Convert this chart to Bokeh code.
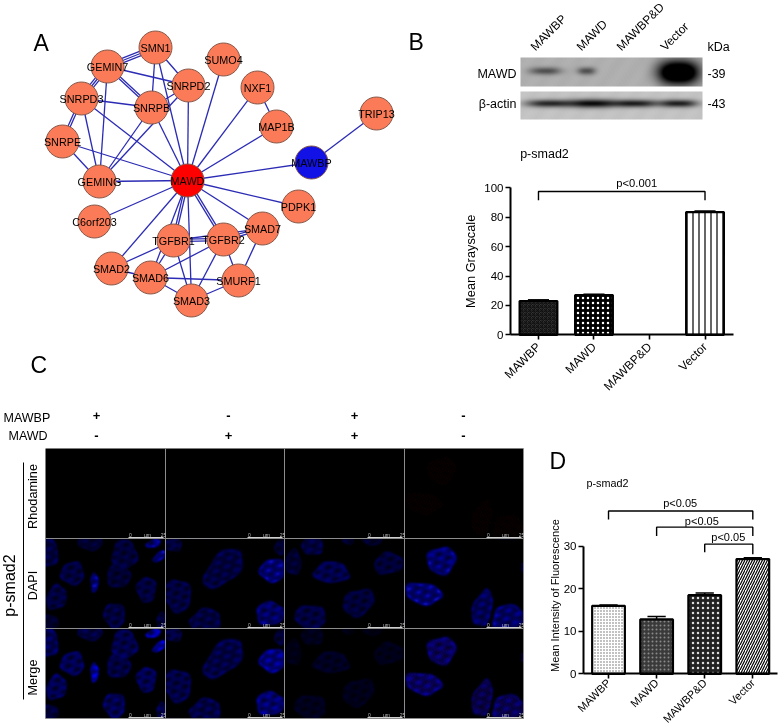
import math
from collections import Counter
import numpy as np
from bokeh.plotting import figure
from bokeh.layouts import column, row
from bokeh.models import Range1d, FixedTicker
from bokeh.core.properties import value
from bokeh.embed import file_html
from bokeh.resources import INLINE

FONT = "Liberation Sans"

# ---- Panel A: interaction network
node_names = ["SMN1","GEMIN7","SUMO4","SNRPD2","NXF1","SNRPD3","SNRPB","MAP1B","TRIP13","SNRPE","MAWBP",
              "GEMING","MAWD","PDPK1","C6orf203","SMAD7","TGFBR1","TGFBR2","SMAD2","SMAD6","SMURF1","SMAD3"]
node_x = [155,107,223,188,257,81,151,276,376,62,311,99,187,298,94,262,173,223,111,150,238,191]
node_y = [47,66,59,85,87,98,107,126,113,141,162,181,180,206,221,228,240,239,268,277,280,300]
edges = [("MAWD",n) for n in ["SMN1","SNRPD2","SUMO4","NXF1","MAP1B","MAWBP","PDPK1","SMAD7","TGFBR2","TGFBR2","TGFBR1",
                              "TGFBR1","SMAD3","SMAD6","SMAD2","C6orf203","GEMING","SNRPE","SNRPD3","SNRPB"]] + [
    ("MAWBP","TRIP13"),("NXF1","MAP1B"),("GEMIN7","SMN1"),("GEMIN7","SMN1"),("GEMIN7","SMN1"),("GEMIN7","SNRPD2"),
    ("GEMIN7","SNRPD3"),("GEMIN7","SNRPD3"),("GEMIN7","SNRPD3"),("GEMIN7","SNRPB"),("GEMIN7","SNRPB"),("GEMIN7","GEMING"),
    ("SMN1","SNRPD2"),("SMN1","SNRPB"),("SNRPD2","SNRPB"),("SNRPD3","SNRPB"),("SNRPD3","SNRPE"),("SNRPD3","SNRPE"),
    ("SNRPD3","GEMING"),("SNRPE","GEMING"),("SNRPB","GEMING"),("SNRPD2","GEMING"),
    ("TGFBR1","TGFBR2"),("TGFBR1","TGFBR2"),("TGFBR1","SMAD7"),("TGFBR2","SMAD7"),("TGFBR2","SMAD7"),("TGFBR1","SMAD2"),
    ("TGFBR1","SMAD6"),("TGFBR1","SMAD3"),("TGFBR2","SMAD6"),("TGFBR2","SMAD3"),("TGFBR2","SMURF1"),("SMAD7","SMURF1"),
    ("SMAD2","SMAD6"),("SMAD6","SMURF1"),("SMAD6","SMAD3"),("SMAD3","SMURF1")]

# ---- Panel B: blot and bars
lane_labels = ["MAWBP","MAWD","MAWBP&D","Vector"]
mawd_bands = [(545,70.5,14,3.2,0.55),(586,70.5,8,3.2,0.55),(678,72,18,10,1.6)]
actin_bands = [(548,103,20,3.2,0.8),(592,103,21,3.6,0.95),(635,103,19,3.2,0.85),(678,103,17,3.2,0.85)]
b_categories = ["MAWBP","MAWD","MAWBP&D","Vector"]
b_values = [23.0,27.0,0.0,83.5]
b_tops = [23.8,27.6,0.0,84.3]

# ---- Panel D: bars
d_categories = ["MAWBP","MAWD","MAWBP&D","Vector"]
d_values = [16.0,12.8,18.5,27.0]
d_tops = [16.2,13.5,19.0,27.3]

# ---- Panel C: nuclei (x, y, a, b, angle, brightness), per column
nuclei_cols = [
    [(3,14,10,15,0,.5),(45,4,13,8,0,.4),(79,16,13,15,0,.45),(27,35,12,12,0,.5),(108,5,8,4,-20,1),(114,18,8,4,-40,1),
     (49,44,4,10,0,.95),(73,37,12,13,0,.4),(11,59,10,13,20,.5),(101,51,10,13,0,.5),(69,77,11,13,-10,.5),(5,84,8,8,0,.35),(117,82,6,8,0,.5)],
    [(8,6,9,7,0,.5),(58,30,25,14,-45,.5),(12,57,14,17,-15,.5),(40,82,16,12,-10,.5),(107,32,13,12,-20,.9),(115,9,6,8,0,.4),(105,75,15,12,0,.8)],
    [(28,7,11,10,0,.5),(9,24,8,13,0,.4),(47,34,18,11,0,.6),(104,25,15,11,-10,.45),(74,64,17,13,-30,.45),(26,79,16,13,10,.5),(64,2,6,4,0,.4),(88,2,10,5,0,.35)],
    [(37,22,15,14,-20,.85),(19,55,19,11,10,.9),(78,70,10,19,15,.7),(104,79,17,13,-10,.8),(119,29,2,5,0,.7)],
]
merge_gain = [1.3,1.1,0.45,0.85]
col_edges = [45,165,284,404,523]
row_edges = [448,538,628,718]
row_names = ["Rhodamine","DAPI","Merge"]
mawbp_signs = ["+","-","+","-"]
mawd_signs = ["-","+","+","-"]


def bare(w, h, x0, x1, y0, y1):
    p = figure(width=w, height=h, x_range=Range1d(x0, x1), y_range=Range1d(y1, y0), toolbar_location=None,
               output_backend="svg", min_border=0, outline_line_color=None, frame_align=False)
    p.axis.visible = False
    p.grid.visible = False
    return p


def label(p, x, y, s, size, angle=0, align="left", style="normal", base="middle"):
    p.text([x], [y], text=[s], angle=angle, text_font=value(FONT), text_font_size=f"{size}px", text_align=align,
           text_baseline=base, text_color="black", text_font_style=style)


# Panel A
pa = bare(455, 395, 0, 455, 0, 395)
pos = dict(zip(node_names, zip(node_x, node_y)))
cnt = Counter(edges)
x0s, y0s, x1s, y1s = [], [], [], []
for (a, b), n in cnt.items():
    ax, ay = pos[a]; bx, by = pos[b]
    L = math.hypot(bx-ax, by-ay)
    ux, uy = -(by-ay)/L, (bx-ax)/L
    for k in range(n):
        o = (k-(n-1)/2)*2.2
        x0s.append(ax+ux*o); y0s.append(ay+uy*o); x1s.append(bx+ux*o); y1s.append(by+uy*o)
pa.segment(x0s, y0s, x1s, y1s, line_color="#2b2bb5", line_width=1.3)
colors = ["#ff0000" if n == "MAWD" else "#1212e6" if n == "MAWBP" else "#fb7b58" for n in node_names]
pa.scatter(node_x, node_y, size=33, fill_color=colors, line_color="#85584a", line_width=1)
pa.text(node_x, node_y, text=node_names, text_font=value(FONT), text_font_size="10.8px", text_align="center",
        text_baseline="middle", text_color="black")
label(pa, 33, 42, "A", 23)
label(pa, 408, 41, "B", 23)
label(pa, 30, 364, "C", 23)


# Blot
def gel(x0, x1, y0, y1, bands, bg):
    X, Y = np.meshgrid(np.arange(x0, x1)+.5, np.arange(y0, y1)+.5)
    tex = 0.5*np.sin(X*1.3+Y*.7)*np.sin(Y*1.7-X*.4)+0.5*np.sin(X*.31+Y*.23)
    g = bg+4*tex
    dark = np.zeros_like(X, dtype=float)
    for cx, cy, sx, sy, amp in bands:
        dark += amp*np.exp(-(np.abs((X-cx)/sx)**2.6+np.abs((Y-cy)/sy)**2)/1.4)
    g = g*(1-np.clip(dark, 0, 1))
    g = np.clip(g, 0, 255).astype(np.uint32)
    return (255 << 24) | (g << 16) | (g << 8) | g


pbl = bare(323, 140, 455, 778, 0, 140)
pbl.image_rgba(image=[gel(520, 702, 57, 86, mawd_bands, 176)], x=520, y=57, dw=182, dh=29)
pbl.image_rgba(image=[gel(520, 702, 91, 119, actin_bands, 196)], x=520, y=91, dw=182, dh=28)
lane_x = [537, 583, 623, 667]
for lx, s in zip(lane_x, lane_labels):
    label(pbl, lx, 53, s, 12, angle=math.pi/4, base="bottom")
label(pbl, 516, 73, "MAWD", 12.5, align="right")
label(pbl, 516, 103, "β-actin", 12.5, align="right")
label(pbl, 707, 46, "kDa", 12.5)
label(pbl, 707, 73, "-39", 12.5)
label(pbl, 707, 103, "-43", 12.5)


def chart(w, h, xr, yr, xb, yb, ticks, cats, labelsize, xlabelsize, x_standoff):
    p = figure(width=w, height=h, x_range=Range1d(*xr), y_range=Range1d(*yr), toolbar_location=None, output_backend="svg",
               outline_line_color=None, min_border=0, frame_align=False)
    p.grid.visible = False
    p.xaxis.bounds = xb
    p.yaxis.bounds = yb
    p.xaxis.fixed_location = 0
    p.yaxis.fixed_location = xb[0]
    p.xaxis.ticker = FixedTicker(ticks=[0, 1, 2, 3])
    p.yaxis.ticker = FixedTicker(ticks=ticks)
    p.xaxis.major_label_overrides = {i: s for i, s in enumerate(cats)}
    p.xaxis.major_label_orientation = math.pi/4
    for ax in (p.xaxis[0], p.yaxis[0]):
        ax.axis_line_width = 2
        ax.major_tick_line_width = 1.6
        ax.major_tick_in = 0
        ax.major_tick_out = 5
        ax.minor_tick_line_color = None
        ax.major_label_text_font = FONT
        ax.major_label_text_color = "black"
        ax.major_label_text_font_size = f"{labelsize}px"
        ax.major_label_standoff = 2
    p.xaxis.major_label_text_font_size = f"{xlabelsize}px"
    p.xaxis.major_label_standoff = x_standoff
    return p


def bars(p, vals, tops, styles, cap=0.19):
    for i, (v, st) in enumerate(zip(vals, styles)):
        if v <= 0:
            continue
        p.vbar([i], width=0.68, top=[v], bottom=0, line_color="black", line_width=2.2, **st)
        p.segment([i], [v], [i], [tops[i]], line_color="black", line_width=1.5)
        p.segment([i-cap], [tops[i]], [i+cap], [tops[i]], line_color="black", line_width=1.5)


def bracket(p, a, b, y, ya, yb, txt, tx, ty, size):
    p.line([a, a, b, b], [ya, y, y, yb], line_color="black", line_width=1.4)
    p.text([tx], [ty], text=[txt], text_font=value(FONT), text_font_size=f"{size}px", text_align="center",
           text_baseline="middle", text_color="black")


# Panel B chart
pb = chart(323, 255, (-1.495, 4.324), (-41.3, 132.2), (-0.505, 3.51), (0, 100), [0, 20, 40, 60, 80, 100], b_categories,
           11.5, 12, 5)
label(pb, -1.225, 50, "Mean Grayscale", 12.8, angle=math.pi/2, align="center")
b_styles = [
    dict(fill_color="#333333", hatch_pattern="criss_cross", hatch_color="#111111", hatch_scale=4, hatch_weight=1),
    dict(fill_color="black", hatch_pattern="dot", hatch_color="white", hatch_scale=5, hatch_weight=3.6),
    dict(),
    dict(fill_color="white", hatch_pattern="vertical_line", hatch_color="black", hatch_scale=6, hatch_weight=1.2),
]
bars(pb, b_values, b_tops, b_styles)
bracket(pb, 0, 3, 97.5, 91.5, 91.5, "p<0.001", 1.77, 103.2, 11.2)
pb.text([-0.33], [122.7], text=["p-smad2"], text_font=value(FONT), text_font_size="12.5px", text_baseline="middle",
        text_color="black")


# Panel C
def box_blur(a):
    out = a.copy()
    for ax in (0, 1):
        out = (np.roll(out, 1, ax)+2*out+np.roll(out, -1, ax))/4
    return out


H, W = row_edges[-1]-row_edges[0], col_edges[-1]-col_edges[0]
rgb = np.zeros((H, W, 3))
for c, nuc in enumerate(nuclei_cols):
    x0 = col_edges[c]; pw = col_edges[c+1]-x0
    X, Y = np.meshgrid(np.arange(pw)+.5, np.arange(90)+.5)
    val = np.zeros_like(X); mask_all = np.zeros_like(X)
    for cx, cy, a, b, ang, br in nuc:
        t = math.radians(ang)
        dx = (X-cx)*math.cos(t)+(Y-cy)*math.sin(t)
        dy = -(X-cx)*math.sin(t)+(Y-cy)*math.cos(t)
        th = np.arctan2(dy/b, dx/a)
        r = np.sqrt((dx/a)**2+(dy/b)**2)*(1+.07*np.sin(3*th+cx)+.05*np.sin(5*th+cy))
        m = np.clip((1-r)/.1, 0, 1)
        rim = np.exp(-((r-.92)/.1)**2)
        tex = (np.sin(X*.62+Y*.21+cx)+np.sin(Y*.71-X*.27+cy)+np.sin(X*.37+Y*.83+cx*cy))/3
        v = m*(.62+.42*tex)*br+rim*.3*br
        val = np.maximum(val, v); mask_all = np.maximum(mask_all, m)
    xa = x0-col_edges[0]
    val = box_blur(val)
    rgb[90:180, xa:xa+pw, 2] = np.clip(val*190, 0, 255)
    rgb[180:270, xa:xa+pw, 2] = np.clip(val*190*merge_gain[c], 0, 255)
    rgb[90:180, xa:xa+pw, 0] = rgb[90:180, xa:xa+pw, 1] = np.clip(val-.75, 0, 1)*90
    if c == 3:
        speck = np.clip(np.sin(X*1.7+Y*.9)*np.sin(Y*2.1-X*.6)-.2, 0, 1)
        rgb[0:90, xa:xa+pw, 0] = mask_all*speck*50
        rgb[180:270, xa:xa+pw, 0] = mask_all*speck*60
rgb = np.clip(rgb, 0, 255).astype(np.uint32)
img = (255 << 24) | (rgb[..., 2] << 16) | (rgb[..., 1] << 8) | rgb[..., 0]

pc = bare(530, 330, 0, 530, 395, 725)
pc.image_rgba(image=[img], x=col_edges[0], y=row_edges[0], dw=W, dh=H)
for xe in col_edges[1:]:
    pc.line([xe, xe], [row_edges[0], row_edges[-1]], line_color="#8c8c8c", line_width=1)
for ye in row_edges[1:]:
    pc.line([col_edges[0], col_edges[-1]], [ye, ye], line_color="#8c8c8c", line_width=1)
for c in range(4):
    for ye in row_edges[1:]:
        xr = col_edges[c+1]
        pc.line([xr-37, xr-2], [ye-1, ye-1], line_color="#cfcfcf", line_width=1)
        pc.text([xr-35, xr-18, xr-2], [ye-4, ye-4, ye-4], text=["0", "µm", "25"], text_font=value(FONT),
                text_font_size="5px", text_color="#bdbdbd", text_align="center", text_baseline="middle")
label(pc, 3, 417, "MAWBP", 12.5)
label(pc, 8, 435, "MAWD", 12.5)
for xs, s1, s2 in zip([96, 228, 354, 463], mawbp_signs, mawd_signs):
    pc.text([xs, xs], [415, 435], text=[s1, s2], text_font=value(FONT), text_font_size="13px", text_font_style="bold",
            text_align="center", text_baseline="middle", text_color="black")
for yc, s in zip([496, 585, 677], row_names):
    label(pc, 32, yc, s, 12.7, angle=math.pi/2, align="center")
label(pc, 9, 585, "p-smad2", 16, angle=math.pi/2, align="center")
pc.line([23, 23], [462, 699], line_color="black", line_width=1)

# Panel D heading
pdt = bare(248, 100, 530, 778, 395, 495)
label(pdt, 549, 460, "D", 23)
label(pdt, 586, 482, "p-smad2", 10.8)

# Panel D chart
pd_ = chart(248, 230, (-1.622, 3.534), (-12.16, 41.95), (-0.52, 3.51), (0, 30), [0, 10, 20, 30], d_categories,
            11.5, 11, 2)
label(pd_, -1.123, 18.4, "Mean Intensity of Fluorescence", 11, angle=math.pi/2, align="center")
d_styles = [
    dict(fill_color="white", hatch_pattern="dot", hatch_color="#666666", hatch_scale=3, hatch_weight=1.2),
    dict(fill_color="#3a3a3a", hatch_pattern="dot", hatch_color="#8a8a8a", hatch_scale=4, hatch_weight=1.5),
    dict(fill_color="#222222", hatch_pattern="dot", hatch_color="#dddddd", hatch_scale=5, hatch_weight=3),
    dict(fill_color="white", hatch_pattern="right_diagonal_line", hatch_color="black", hatch_scale=5, hatch_weight=1.2),
]
bars(pd_, d_values, d_tops, d_styles)
bracket(pd_, 0, 3, 38.3, 36.3, 36.3, "p<0.05", 1.49, 40.1, 11)
bracket(pd_, 1, 3, 34.5, 32.4, 32.4, "p<0.05", 1.94, 35.9, 11)
bracket(pd_, 2, 3, 30.5, 28.6, 28.1, "p<0.05", 2.49, 32.1, 11)

layout = column(row(pa, column(pbl, pb, spacing=0), spacing=0), row(pc, column(pdt, pd_, spacing=0), spacing=0), spacing=0,
                styles={"position": "fixed", "left": "0", "top": "0"})
open("out.html", "w").write(file_html(layout, INLINE))
